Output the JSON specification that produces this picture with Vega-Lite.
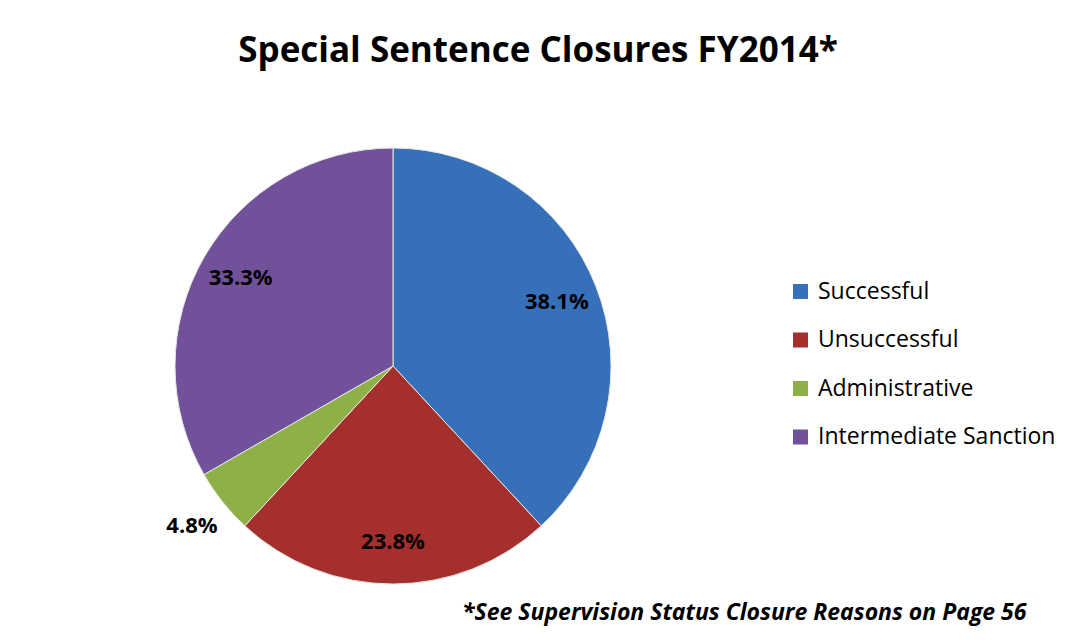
{
  "$schema": "https://vega.github.io/schema/vega-lite/v6.json",
  "padding": {"left": 0, "top": 34, "right": 0, "bottom": 12},
  "background": "white",
  "title": {
    "text": "Special Sentence Closures FY2014*",
    "font": "Open Sans",
    "fontSize": 35,
    "fontWeight": "bold",
    "color": "black",
    "anchor": "middle",
    "frame": "group",
    "dx": 145,
    "offset": 77
  },
  "config": {"view": {"stroke": null}},
  "vconcat": [
    {
      "width": 786,
      "height": 436,
      "title": {
        "text": "*See Supervision Status Closure Reasons on Page 56",
        "orient": "bottom",
        "anchor": "start",
        "frame": "group",
        "dx": 462,
        "offset": 16,
        "font": "Open Sans",
        "fontSize": 23,
        "fontWeight": "bold",
        "fontStyle": "italic",
        "color": "black"
      },
      "data": {
        "values": [
          {"category": "Successful", "share": 38.1, "label": "38.1%", "ord": 1},
          {"category": "Unsuccessful", "share": 23.8, "label": "23.8%", "ord": 2},
          {"category": "Administrative", "share": 4.8, "label": "4.8%", "ord": 3},
          {"category": "Intermediate Sanction", "share": 33.3, "label": "33.3%", "ord": 4}
        ]
      },
      "transform": [
        {"stack": "share", "groupby": [], "sort": [{"field": "ord", "order": "ascending"}], "as": ["s0", "s1"]},
        {"calculate": "(datum.s0 + datum.s1) / 2", "as": "mid"}
      ],
      "layer": [
        {
          "mark": {"type": "arc", "outerRadius": 218, "stroke": "#e6e6e6", "strokeWidth": 1},
          "encoding": {
            "theta": {"field": "s0", "type": "quantitative", "scale": {"domain": [0, 100]}},
            "theta2": {"field": "s1"},
            "color": {
              "field": "category",
              "type": "nominal",
              "sort": ["Successful", "Unsuccessful", "Administrative", "Intermediate Sanction"],
              "scale": {
                "domain": ["Successful", "Unsuccessful", "Administrative", "Intermediate Sanction"],
                "range": ["#3570b8", "#a52f2c", "#8db047", "#70519a"]
              },
              "legend": {
                "title": null,
                "orient": "none",
                "legendX": 789,
                "legendY": 132,
                "symbolType": "square",
                "symbolSize": 225,
                "symbolStrokeWidth": 0,
                "labelFont": "Open Sans",
                "labelFontSize": 23,
                "labelColor": "black",
                "labelOffset": 6,
                "rowPadding": 24.5,
                "labelLimit": 400
              }
            }
          }
        },
        {
          "transform": [{"filter": "datum.category != 'Administrative'"}],
          "mark": {"type": "text", "radius": 176, "font": "Open Sans", "fontSize": 22, "fontWeight": "bold", "color": "black"},
          "encoding": {
            "theta": {"field": "mid", "type": "quantitative", "scale": {"domain": [0, 100]}},
            "text": {"field": "label"}
          }
        },
        {
          "transform": [{"filter": "datum.category == 'Administrative'"}],
          "mark": {"type": "text", "radius": 257, "font": "Open Sans", "fontSize": 22, "fontWeight": "bold", "color": "black"},
          "encoding": {
            "theta": {"field": "mid", "type": "quantitative", "scale": {"domain": [0, 100]}},
            "text": {"field": "label"}
          }
        }
      ]
    }
  ]
}
